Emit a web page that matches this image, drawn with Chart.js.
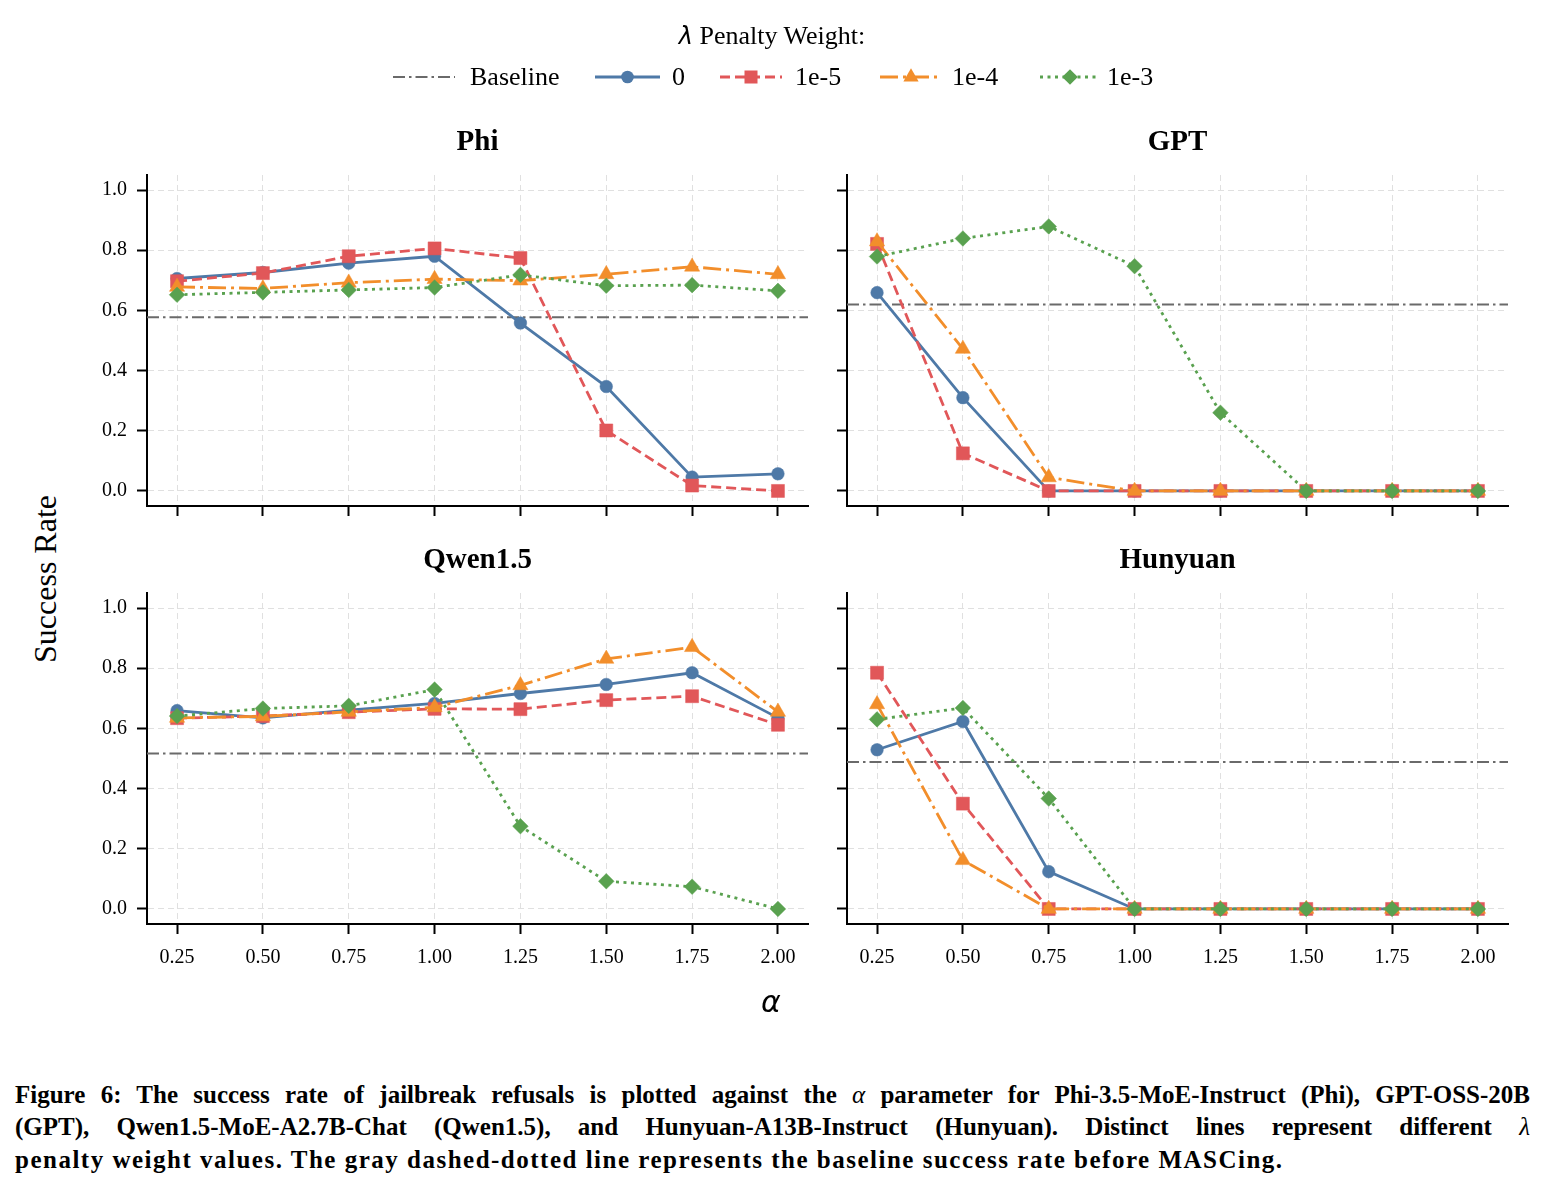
<!DOCTYPE html>
<html>
<head>
<meta charset="utf-8">
<script src="https://cdn.jsdelivr.net/npm/chart.js@4.4.1/dist/chart.umd.min.js"></script>
<style>
  html,body{margin:0;padding:0;background:#fff;}
  body{width:1545px;height:1190px;position:relative;overflow:hidden;font-family:"Liberation Serif",serif;color:#000;}
  canvas.panel{position:absolute;}
  .t{position:absolute;white-space:nowrap;transform:translate(-50%,-50%);}
  .ptitle{font-weight:bold;font-size:29px;}
  .leg{position:absolute;white-space:nowrap;font-size:26px;transform:translateY(-50%);}
  .cap{position:absolute;left:15px;width:1515px;font-weight:bold;font-size:25px;line-height:32px;text-align:justify;}
  .j{text-align-last:justify;}
  .m{font-family:"DejaVu Sans",sans-serif;font-style:oblique;}
</style>
</head>
<body>
<canvas id="legendCanvas" style="position:absolute;left:0;top:0;" width="1545" height="110"></canvas>
<div class="t" style="left:772px;top:36px;font-size:26px;"><span class="m" style="font-size:24px;">λ</span> Penalty Weight:</div>
<div id="legendTexts"></div>

<canvas id="c0" class="panel"></canvas>
<canvas id="c1" class="panel"></canvas>
<canvas id="c2" class="panel"></canvas>
<canvas id="c3" class="panel"></canvas>
<div id="titles"></div>

<div class="t" style="left:45px;top:579px;font-size:32px;transform:translate(-50%,-50%) rotate(-90deg);">Success Rate</div>
<div class="t m" style="left:771px;top:1001px;font-size:30px;">α</div>

<div class="cap j" style="top:1079px;">Figure 6: The success rate of jailbreak refusals is plotted against the <i style="font-weight:normal">α</i> parameter for Phi-3.5-MoE-Instruct (Phi), GPT-OSS-20B</div>
<div class="cap j" style="top:1111px;">(GPT), Qwen1.5-MoE-A2.7B-Chat (Qwen1.5), and Hunyuan-A13B-Instruct (Hunyuan). Distinct lines represent different <i style="font-weight:normal">λ</i></div>
<div class="cap" style="top:1144px;letter-spacing:1.5px;">penalty weight values. The gray dashed-dotted line represents the baseline success rate before MASCing.</div>

<script>
// ---------------- DATA ----------------
const ALPHAS = [0.25, 0.50, 0.75, 1.00, 1.25, 1.50, 1.75, 2.00];
const Y_TICKS = [0.0, 0.2, 0.4, 0.6, 0.8, 1.0];
const LAMBDAS = ['0', '1e-5', '1e-4', '1e-3'];
const MODELS = ['Phi', 'GPT', 'Qwen1.5', 'Hunyuan'];

const phi_l0    = [0.706, 0.726, 0.757, 0.780, 0.558, 0.347, 0.046, 0.057];
const phi_l1e5  = [0.697, 0.724, 0.780, 0.806, 0.774, 0.201, 0.018, 0.000];
const phi_l1e4  = [0.678, 0.673, 0.692, 0.704, 0.699, 0.720, 0.745, 0.720];
const phi_l1e3  = [0.652, 0.660, 0.668, 0.676, 0.718, 0.682, 0.684, 0.665];

const gpt_l0    = [0.659, 0.310, 0.000, 0.000, 0.000, 0.000, 0.000, 0.000];
const gpt_l1e5  = [0.821, 0.125, 0.000, 0.000, 0.000, 0.000, 0.000, 0.000];
const gpt_l1e4  = [0.829, 0.472, 0.045, 0.000, 0.000, 0.000, 0.000, 0.000];
const gpt_l1e3  = [0.779, 0.839, 0.879, 0.747, 0.260, 0.000, 0.000, 0.000];

const qwen_l0   = [0.659, 0.635, 0.661, 0.683, 0.716, 0.746, 0.785, 0.635];
const qwen_l1e5 = [0.634, 0.641, 0.654, 0.665, 0.664, 0.694, 0.707, 0.612];
const qwen_l1e4 = [0.635, 0.640, 0.655, 0.670, 0.743, 0.831, 0.870, 0.655];
const qwen_l1e3 = [0.641, 0.666, 0.675, 0.729, 0.275, 0.092, 0.074, 0.000];

const hun_l0    = [0.529, 0.623, 0.124, 0.000, 0.000, 0.000, 0.000, 0.000];
const hun_l1e5  = [0.785, 0.350, 0.000, 0.000, 0.000, 0.000, 0.000, 0.000];
const hun_l1e4  = [0.680, 0.162, 0.000, 0.000, 0.000, 0.000, 0.000, 0.000];
const hun_l1e3  = [0.630, 0.668, 0.367, 0.000, 0.000, 0.000, 0.000, 0.000];

const BASELINES = [0.577, 0.620, 0.517, 0.488];

// ---------------- STYLE ----------------
const X_MIN = 0.1625, X_MAX = 2.0875, Y_MIN = -0.05, Y_MAX = 1.05;
const FONT = 'Liberation Serif';
const LW = 2.8;
const STYLES = [
  {color:'#4e79a7', dash:[],          marker:'circle',   r:6.3},
  {color:'#e15759', dash:[10,5],      marker:'rect',     r:9.2},
  {color:'#f28e2b', dash:[18,5,3,5],  marker:'triangle', r:8.8},
  {color:'#59a14f', dash:[3,4.5],     marker:'rectRot',  r:7.8}
];
const BASE_STYLE = {color:'#6a6a6a', dash:[12,4,2.5,4], width:2};
const SERIES = [
  [phi_l0, phi_l1e5, phi_l1e4, phi_l1e3],
  [gpt_l0, gpt_l1e5, gpt_l1e4, gpt_l1e3],
  [qwen_l0, qwen_l1e5, qwen_l1e4, qwen_l1e3],
  [hun_l0, hun_l1e5, hun_l1e4, hun_l1e3]
];
// chart-area boxes (left, top, width, height)
const AREAS = [
  [147, 175, 661, 331],
  [847, 175, 661, 331],
  [147, 593, 661, 331],
  [847, 593, 661, 331]
];

function makePanel(idx) {
  const canvas = document.getElementById('c' + idx);
  canvas.width = 760; canvas.height = 420;
  const showX = idx >= 2, showY = idx % 2 === 0;
  const datasets = [{
    label: 'Baseline',
    data: [{x: X_MIN, y: BASELINES[idx]}, {x: X_MAX, y: BASELINES[idx]}],
    borderColor: BASE_STYLE.color, borderWidth: BASE_STYLE.width, borderDash: BASE_STYLE.dash,
    pointRadius: 0, order: 10, clip: false
  }];
  SERIES[idx].forEach((vals, i) => {
    const st = STYLES[i];
    datasets.push({
      label: LAMBDAS[i],
      data: ALPHAS.map((a, j) => ({x: a, y: vals[j]})),
      borderColor: st.color, backgroundColor: st.color,
      borderWidth: LW, borderDash: st.dash, tension: 0,
      pointStyle: st.marker, pointRadius: st.r,
      pointBackgroundColor: st.color, pointBorderColor: st.color, pointBorderWidth: 0.5,
      order: 4 - i, clip: false
    });
  });
  const gridCfg = {color:'#e0e0e0', lineWidth:1, drawTicks:true, tickLength:10, tickColor:'#000', tickWidth:2};
  const chart = new Chart(canvas, {
    type: 'line',
    data: {datasets},
    options: {
      responsive: false, maintainAspectRatio: false, animation: false, events: [],
      layout: {padding: {top: 30, right: 20, left: 0, bottom: 0}},
      plugins: {legend: {display: false}, tooltip: {enabled: false}, title: {display: false}},
      scales: {
        x: {
          type: 'linear', min: X_MIN, max: X_MAX,
          afterBuildTicks: s => { s.ticks = ALPHAS.map(v => ({value: v})); },
          afterFit: s => { s.height = showX ? 64 : 30; },
          grid: gridCfg,
          border: {display: true, color: '#000', width: 2, dash: [6,4]},
          ticks: {display: showX, autoSkip: false, maxRotation: 0, padding: 12, color: '#000',
                  font: {family: FONT, size: 20}, callback: v => Number(v).toFixed(2)}
        },
        y: {
          type: 'linear', min: Y_MIN, max: Y_MAX,
          afterBuildTicks: s => { s.ticks = Y_TICKS.map(v => ({value: v})); },
          afterFit: s => { s.width = 60; },
          grid: gridCfg,
          border: {display: true, color: '#000', width: 2, dash: [6,4]},
          ticks: {display: showY, padding: 10, color: '#000',
                  font: {family: FONT, size: 20}, callback: v => Number(v).toFixed(1)}
        }
      }
    }
  });
  // align the chart area with the target box
  const [L, T, W, H] = AREAS[idx];
  let ca = chart.chartArea;
  const newW = canvas.width + (W - (ca.right - ca.left));
  const newH = canvas.height + (H - (ca.bottom - ca.top));
  chart.resize(newW, newH);
  ca = chart.chartArea;
  canvas.style.left = (L - ca.left) + 'px';
  canvas.style.top = (T - ca.top) + 'px';
}
for (let i = 0; i < 4; i++) makePanel(i);

// panel titles
const titles = document.getElementById('titles');
MODELS.forEach((m, i) => {
  const [L, T, W] = AREAS[i];
  const d = document.createElement('div');
  d.className = 't ptitle';
  d.style.left = (L + W / 2) + 'px';
  d.style.top = (T - 35) + 'px';
  d.textContent = m;
  titles.appendChild(d);
});

// legend
const LEG_ITEMS = [
  {label:'Baseline', x0:393, x1:455, tx:470, base:true},
  {label:LAMBDAS[0], x0:595, x1:660, tx:672, s:0},
  {label:LAMBDAS[1], x0:720, x1:782, tx:795, s:1},
  {label:LAMBDAS[2], x0:880, x1:942, tx:952, s:2},
  {label:LAMBDAS[3], x0:1040, x1:1100, tx:1107, s:3}
];
const lctx = document.getElementById('legendCanvas').getContext('2d');
const LY = 77;
function drawMarker(ctx, st, x, y) {
  ctx.fillStyle = st.color;
  ctx.beginPath();
  const r = st.r;
  if (st.marker === 'circle') ctx.arc(x, y, r, 0, Math.PI * 2);
  else if (st.marker === 'rect') { const s = r * Math.SQRT1_2; ctx.rect(x - s, y - s, 2 * s, 2 * s); }
  else if (st.marker === 'triangle') { ctx.moveTo(x, y - r); ctx.lineTo(x + r * 0.866, y + r / 2); ctx.lineTo(x - r * 0.866, y + r / 2); ctx.closePath(); }
  else { ctx.moveTo(x - r, y); ctx.lineTo(x, y - r); ctx.lineTo(x + r, y); ctx.lineTo(x, y + r); ctx.closePath(); }
  ctx.fill();
}
const ltexts = document.getElementById('legendTexts');
LEG_ITEMS.forEach(it => {
  const st = it.base ? {color: BASE_STYLE.color, dash: BASE_STYLE.dash} : STYLES[it.s];
  lctx.save();
  lctx.strokeStyle = st.color;
  lctx.lineWidth = it.base ? BASE_STYLE.width : LW;
  lctx.setLineDash(st.dash);
  lctx.beginPath(); lctx.moveTo(it.x0, LY); lctx.lineTo(it.x1, LY); lctx.stroke();
  lctx.restore();
  if (!it.base) drawMarker(lctx, st, (it.x0 + it.x1) / 2, LY);
  const d = document.createElement('div');
  d.className = 'leg';
  d.style.left = it.tx + 'px';
  d.style.top = LY + 'px';
  d.textContent = it.label;
  ltexts.appendChild(d);
});
</script>
</body>
</html>
